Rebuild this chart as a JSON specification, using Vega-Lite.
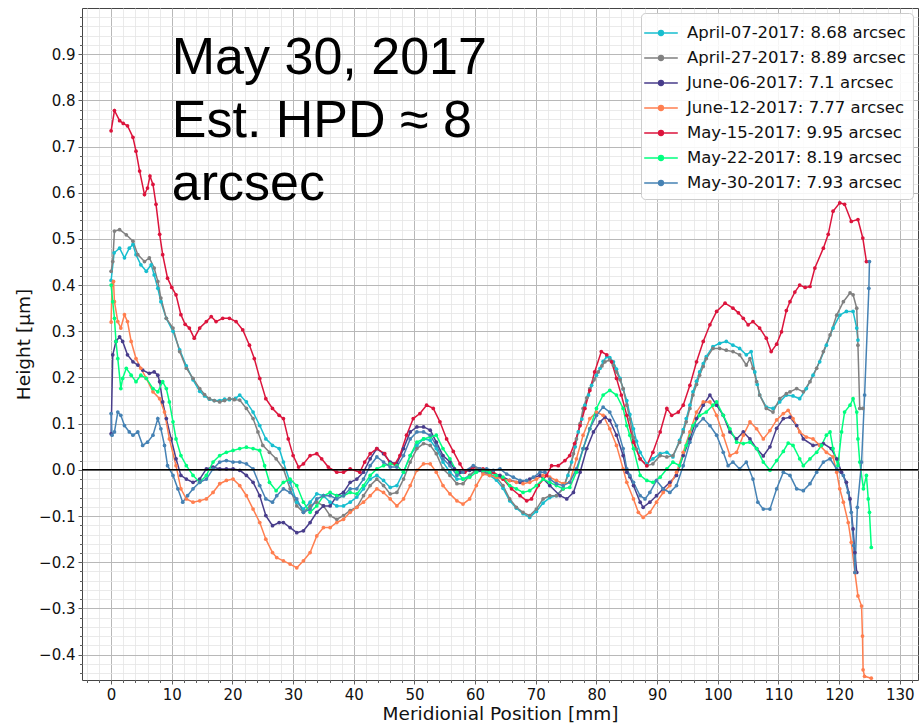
{
"$schema": "https://vega.github.io/schema/vega-lite/v6.json",
"width": 836, "height": 672,
"autosize": {"type": "none"},
"padding": {"left": 82, "top": 8, "right": 3, "bottom": 44},
"background": "white",
"config": {"view": {"stroke": "#444", "strokeWidth": 1}, "font": "DejaVu Sans"},
"datasets": {
"names": [{"s":"a","name":"April-07-2017: 8.68 arcsec"},{"s":"b","name":"April-27-2017: 8.89 arcsec"},{"s":"c","name":"June-06-2017: 7.1 arcsec"},{"s":"d","name":"June-12-2017: 7.77 arcsec"},{"s":"e","name":"May-15-2017: 9.95 arcsec"},{"s":"f","name":"May-22-2017: 8.19 arcsec"},{"s":"g","name":"May-30-2017: 7.93 arcsec"}],
"pts": [
{"s":"a","x":0,"y":0.41},{"s":"a","x":0.5,"y":0.47},{"s":"a","x":1.4,"y":0.48},{"s":"a","x":2.2,"y":0.459},{"s":"a","x":3.0,"y":0.48},{"s":"a","x":3.6,"y":0.488},{"s":"a","x":4.1,"y":0.466},{"s":"a","x":4.9,"y":0.444},{"s":"a","x":5.8,"y":0.43},{"s":"a","x":6.6,"y":0.444},{"s":"a","x":7.1,"y":0.422},{"s":"a","x":7.7,"y":0.393},{"s":"a","x":8.2,"y":0.364},{"s":"a","x":9.1,"y":0.328},{"s":"a","x":10.2,"y":0.3},{"s":"a","x":11.3,"y":0.26},{"s":"a","x":12.4,"y":0.225},{"s":"a","x":13.5,"y":0.195},{"s":"a","x":14.6,"y":0.17},{"s":"a","x":15.4,"y":0.16},{"s":"a","x":16.2,"y":0.153},{"s":"a","x":17.0,"y":0.15},{"s":"a","x":17.9,"y":0.15},{"s":"a","x":18.7,"y":0.153},{"s":"a","x":19.5,"y":0.152},{"s":"a","x":20.5,"y":0.155},{"s":"a","x":21.2,"y":0.162},{"s":"a","x":22.3,"y":0.147},{"s":"a","x":23.4,"y":0.125},{"s":"a","x":24.5,"y":0.096},{"s":"a","x":25.5,"y":0.067},{"s":"a","x":26.6,"y":0.053},{"s":"a","x":27.7,"y":0.046},{"s":"a","x":28.4,"y":0.017},{"s":"a","x":29.5,"y":-0.027},{"s":"a","x":30.6,"y":-0.07},{"s":"a","x":31.7,"y":-0.085},{"s":"a","x":32.8,"y":-0.07},{"s":"a","x":33.9,"y":-0.052},{"s":"a","x":35.0,"y":-0.056},{"s":"a","x":36.1,"y":-0.07},{"s":"a","x":37.2,"y":-0.078},{"s":"a","x":38.3,"y":-0.078},{"s":"a","x":39.4,"y":-0.07},{"s":"a","x":40.5,"y":-0.059},{"s":"a","x":41.6,"y":-0.041},{"s":"a","x":42.7,"y":-0.02},{"s":"a","x":43.8,"y":-0.012},{"s":"a","x":44.9,"y":-0.023},{"s":"a","x":46.0,"y":-0.038},{"s":"a","x":47.1,"y":-0.034},{"s":"a","x":48.2,"y":-0.005},{"s":"a","x":49.3,"y":0.031},{"s":"a","x":50.4,"y":0.053},{"s":"a","x":51.5,"y":0.067},{"s":"a","x":52.6,"y":0.064},{"s":"a","x":53.6,"y":0.046},{"s":"a","x":54.7,"y":0.017},{"s":"a","x":55.85,"y":-0.005},{"s":"a","x":57.0,"y":-0.02},{"s":"a","x":58.0,"y":-0.02},{"s":"a","x":59.1,"y":-0.012},{"s":"a","x":60.2,"y":-0.001},{"s":"a","x":61.3,"y":-0.003},{"s":"a","x":62.4,"y":-0.012},{"s":"a","x":63.5,"y":-0.022},{"s":"a","x":64.6,"y":-0.04},{"s":"a","x":65.7,"y":-0.067},{"s":"a","x":66.8,"y":-0.083},{"s":"a","x":67.9,"y":-0.095},{"s":"a","x":69.0,"y":-0.103},{"s":"a","x":70.1,"y":-0.09},{"s":"a","x":71.2,"y":-0.072},{"s":"a","x":72.3,"y":-0.06},{"s":"a","x":73.4,"y":-0.056},{"s":"a","x":74.5,"y":-0.04},{"s":"a","x":75.3,"y":-0.012},{"s":"a","x":75.9,"y":0.017},{"s":"a","x":76.5,"y":0.05},{"s":"a","x":77.0,"y":0.082},{"s":"a","x":77.6,"y":0.11},{"s":"a","x":78.1,"y":0.14},{"s":"a","x":78.7,"y":0.162},{"s":"a","x":79.2,"y":0.183},{"s":"a","x":80.0,"y":0.205},{"s":"a","x":80.6,"y":0.22},{"s":"a","x":81.1,"y":0.235},{"s":"a","x":81.7,"y":0.245},{"s":"a","x":82.2,"y":0.243},{"s":"a","x":82.8,"y":0.234},{"s":"a","x":83.3,"y":0.218},{"s":"a","x":83.9,"y":0.198},{"s":"a","x":84.4,"y":0.175},{"s":"a","x":85.0,"y":0.15},{"s":"a","x":85.5,"y":0.12},{"s":"a","x":86.1,"y":0.089},{"s":"a","x":86.6,"y":0.062},{"s":"a","x":87.2,"y":0.038},{"s":"a","x":88.3,"y":0.013},{"s":"a","x":89.3,"y":0.024},{"s":"a","x":90.5,"y":0.035},{"s":"a","x":91.6,"y":0.038},{"s":"a","x":92.6,"y":0.028},{"s":"a","x":93.7,"y":0.064},{"s":"a","x":94.3,"y":0.087},{"s":"a","x":94.8,"y":0.111},{"s":"a","x":95.4,"y":0.14},{"s":"a","x":95.9,"y":0.169},{"s":"a","x":96.5,"y":0.192},{"s":"a","x":97.0,"y":0.212},{"s":"a","x":97.6,"y":0.23},{"s":"a","x":98.1,"y":0.245},{"s":"a","x":99.2,"y":0.267},{"s":"a","x":100.3,"y":0.274},{"s":"a","x":101.4,"y":0.278},{"s":"a","x":102.5,"y":0.27},{"s":"a","x":103.6,"y":0.263},{"s":"a","x":104.7,"y":0.249},{"s":"a","x":105.5,"y":0.256},{"s":"a","x":106.1,"y":0.212},{"s":"a","x":106.5,"y":0.185},{"s":"a","x":106.9,"y":0.162},{"s":"a","x":108.0,"y":0.136},{"s":"a","x":109.1,"y":0.133},{"s":"a","x":110.2,"y":0.147},{"s":"a","x":111.3,"y":0.162},{"s":"a","x":112.4,"y":0.16},{"s":"a","x":113.5,"y":0.154},{"s":"a","x":114.6,"y":0.176},{"s":"a","x":115.7,"y":0.205},{"s":"a","x":116.8,"y":0.234},{"s":"a","x":117.9,"y":0.27},{"s":"a","x":119.0,"y":0.307},{"s":"a","x":120.1,"y":0.335},{"s":"a","x":121.2,"y":0.343},{"s":"a","x":122.3,"y":0.343},{"s":"a","x":122.9,"y":0.307},{"s":"a","x":123.1,"y":0.281},
{"s":"b","x":0,"y":0.43},{"s":"b","x":0.27,"y":0.451},{"s":"b","x":0.55,"y":0.517},{"s":"b","x":1.4,"y":0.52},{"s":"b","x":2.5,"y":0.509},{"s":"b","x":3.6,"y":0.495},{"s":"b","x":4.4,"y":0.466},{"s":"b","x":5.5,"y":0.451},{"s":"b","x":6.3,"y":0.459},{"s":"b","x":7.1,"y":0.437},{"s":"b","x":7.7,"y":0.408},{"s":"b","x":8.2,"y":0.372},{"s":"b","x":9.1,"y":0.328},{"s":"b","x":10.2,"y":0.307},{"s":"b","x":11.3,"y":0.256},{"s":"b","x":12.4,"y":0.22},{"s":"b","x":13.5,"y":0.198},{"s":"b","x":14.6,"y":0.176},{"s":"b","x":15.4,"y":0.163},{"s":"b","x":16.2,"y":0.154},{"s":"b","x":17.0,"y":0.15},{"s":"b","x":17.9,"y":0.147},{"s":"b","x":18.7,"y":0.15},{"s":"b","x":19.5,"y":0.154},{"s":"b","x":20.3,"y":0.152},{"s":"b","x":21.2,"y":0.151},{"s":"b","x":22.3,"y":0.133},{"s":"b","x":23.4,"y":0.111},{"s":"b","x":24.2,"y":0.082},{"s":"b","x":25.0,"y":0.053},{"s":"b","x":26.1,"y":0.038},{"s":"b","x":27.2,"y":0.024},{"s":"b","x":28.4,"y":0.002},{"s":"b","x":29.5,"y":-0.041},{"s":"b","x":30.6,"y":-0.078},{"s":"b","x":31.7,"y":-0.092},{"s":"b","x":32.8,"y":-0.078},{"s":"b","x":33.9,"y":-0.07},{"s":"b","x":35.0,"y":-0.078},{"s":"b","x":36.1,"y":-0.099},{"s":"b","x":37.2,"y":-0.107},{"s":"b","x":38.3,"y":-0.099},{"s":"b","x":39.4,"y":-0.088},{"s":"b","x":40.5,"y":-0.081},{"s":"b","x":41.6,"y":-0.056},{"s":"b","x":42.7,"y":-0.034},{"s":"b","x":43.8,"y":-0.02},{"s":"b","x":44.9,"y":-0.034},{"s":"b","x":46.0,"y":-0.052},{"s":"b","x":47.1,"y":-0.049},{"s":"b","x":48.2,"y":-0.02},{"s":"b","x":49.3,"y":0.017},{"s":"b","x":50.4,"y":0.046},{"s":"b","x":51.5,"y":0.057},{"s":"b","x":52.6,"y":0.053},{"s":"b","x":53.6,"y":0.035},{"s":"b","x":54.7,"y":0.002},{"s":"b","x":55.85,"y":-0.012},{"s":"b","x":57.0,"y":-0.03},{"s":"b","x":58.0,"y":-0.03},{"s":"b","x":59.1,"y":-0.012},{"s":"b","x":60.2,"y":0.002},{"s":"b","x":61.3,"y":-0.005},{"s":"b","x":62.4,"y":-0.009},{"s":"b","x":63.5,"y":-0.016},{"s":"b","x":64.6,"y":-0.034},{"s":"b","x":65.7,"y":-0.063},{"s":"b","x":66.8,"y":-0.081},{"s":"b","x":67.9,"y":-0.092},{"s":"b","x":69.0,"y":-0.099},{"s":"b","x":70.1,"y":-0.085},{"s":"b","x":71.2,"y":-0.063},{"s":"b","x":72.3,"y":-0.056},{"s":"b","x":73.4,"y":-0.056},{"s":"b","x":74.5,"y":-0.041},{"s":"b","x":75.6,"y":0.002},{"s":"b","x":76.2,"y":0.035},{"s":"b","x":76.7,"y":0.067},{"s":"b","x":77.3,"y":0.1},{"s":"b","x":77.8,"y":0.133},{"s":"b","x":78.4,"y":0.156},{"s":"b","x":78.9,"y":0.176},{"s":"b","x":79.6,"y":0.195},{"s":"b","x":80.3,"y":0.212},{"s":"b","x":80.9,"y":0.225},{"s":"b","x":81.4,"y":0.234},{"s":"b","x":82.2,"y":0.238},{"s":"b","x":82.8,"y":0.226},{"s":"b","x":83.3,"y":0.212},{"s":"b","x":83.9,"y":0.195},{"s":"b","x":84.4,"y":0.176},{"s":"b","x":85.0,"y":0.14},{"s":"b","x":85.5,"y":0.11},{"s":"b","x":86.1,"y":0.07},{"s":"b","x":86.6,"y":0.045},{"s":"b","x":87.2,"y":0.024},{"s":"b","x":88.3,"y":0.009},{"s":"b","x":89.3,"y":0.013},{"s":"b","x":90.5,"y":0.031},{"s":"b","x":91.6,"y":0.028},{"s":"b","x":92.6,"y":0.031},{"s":"b","x":93.7,"y":0.06},{"s":"b","x":94.3,"y":0.082},{"s":"b","x":94.8,"y":0.104},{"s":"b","x":95.4,"y":0.133},{"s":"b","x":95.9,"y":0.162},{"s":"b","x":96.5,"y":0.185},{"s":"b","x":97.0,"y":0.205},{"s":"b","x":97.6,"y":0.224},{"s":"b","x":98.1,"y":0.241},{"s":"b","x":99.2,"y":0.263},{"s":"b","x":100.3,"y":0.263},{"s":"b","x":101.4,"y":0.259},{"s":"b","x":102.5,"y":0.256},{"s":"b","x":103.6,"y":0.249},{"s":"b","x":104.7,"y":0.227},{"s":"b","x":105.3,"y":0.241},{"s":"b","x":105.8,"y":0.22},{"s":"b","x":106.4,"y":0.191},{"s":"b","x":106.9,"y":0.162},{"s":"b","x":108.0,"y":0.133},{"s":"b","x":109.1,"y":0.125},{"s":"b","x":110.2,"y":0.154},{"s":"b","x":111.3,"y":0.165},{"s":"b","x":111.9,"y":0.169},{"s":"b","x":113.0,"y":0.176},{"s":"b","x":114.1,"y":0.169},{"s":"b","x":115.2,"y":0.191},{"s":"b","x":116.3,"y":0.22},{"s":"b","x":117.4,"y":0.256},{"s":"b","x":118.5,"y":0.292},{"s":"b","x":119.6,"y":0.335},{"s":"b","x":120.7,"y":0.364},{"s":"b","x":121.8,"y":0.383},{"s":"b","x":122.3,"y":0.379},{"s":"b","x":122.9,"y":0.35},{"s":"b","x":123.1,"y":0.27},{"s":"b","x":123.4,"y":0.133},{"s":"b","x":123.9,"y":0.133},
{"s":"c","x":0,"y":0.078},{"s":"c","x":0.27,"y":0.249},{"s":"c","x":0.8,"y":0.278},{"s":"c","x":1.4,"y":0.288},{"s":"c","x":1.9,"y":0.278},{"s":"c","x":2.7,"y":0.249},{"s":"c","x":3.6,"y":0.234},{"s":"c","x":4.4,"y":0.227},{"s":"c","x":5.2,"y":0.216},{"s":"c","x":6.3,"y":0.209},{"s":"c","x":7.1,"y":0.212},{"s":"c","x":7.7,"y":0.205},{"s":"c","x":8.0,"y":0.191},{"s":"c","x":8.5,"y":0.147},{"s":"c","x":9.1,"y":0.111},{"s":"c","x":9.9,"y":0.067},{"s":"c","x":10.7,"y":0.024},{"s":"c","x":11.5,"y":-0.012},{"s":"c","x":12.4,"y":-0.02},{"s":"c","x":13.5,"y":-0.027},{"s":"c","x":14.6,"y":-0.02},{"s":"c","x":15.7,"y":0.002},{"s":"c","x":16.8,"y":0.006},{"s":"c","x":17.9,"y":0.002},{"s":"c","x":19.0,"y":0.002},{"s":"c","x":20.1,"y":0.002},{"s":"c","x":21.2,"y":-0.001},{"s":"c","x":22.3,"y":-0.012},{"s":"c","x":23.4,"y":-0.027},{"s":"c","x":24.5,"y":-0.056},{"s":"c","x":25.5,"y":-0.099},{"s":"c","x":26.6,"y":-0.121},{"s":"c","x":27.7,"y":-0.114},{"s":"c","x":28.4,"y":-0.114},{"s":"c","x":29.5,"y":-0.125},{"s":"c","x":30.6,"y":-0.136},{"s":"c","x":31.7,"y":-0.132},{"s":"c","x":32.8,"y":-0.114},{"s":"c","x":33.9,"y":-0.092},{"s":"c","x":35.0,"y":-0.078},{"s":"c","x":36.1,"y":-0.078},{"s":"c","x":37.2,"y":-0.056},{"s":"c","x":38.3,"y":-0.049},{"s":"c","x":39.4,"y":-0.027},{"s":"c","x":40.5,"y":-0.02},{"s":"c","x":41.6,"y":-0.005},{"s":"c","x":42.7,"y":0.024},{"s":"c","x":43.8,"y":0.046},{"s":"c","x":44.9,"y":0.035},{"s":"c","x":46.0,"y":0.017},{"s":"c","x":47.1,"y":0.013},{"s":"c","x":48.2,"y":0.046},{"s":"c","x":49.3,"y":0.082},{"s":"c","x":50.4,"y":0.093},{"s":"c","x":51.5,"y":0.093},{"s":"c","x":52.6,"y":0.086},{"s":"c","x":53.6,"y":0.06},{"s":"c","x":54.7,"y":0.031},{"s":"c","x":55.85,"y":0.017},{"s":"c","x":56.6,"y":0.002},{"s":"c","x":57.5,"y":-0.005},{"s":"c","x":59.1,"y":-0.001},{"s":"c","x":60.8,"y":-0.001},{"s":"c","x":62.4,"y":-0.005},{"s":"c","x":64.1,"y":-0.012},{"s":"c","x":65.7,"y":-0.023},{"s":"c","x":67.4,"y":-0.027},{"s":"c","x":69.0,"y":-0.02},{"s":"c","x":70.7,"y":-0.012},{"s":"c","x":72.3,"y":-0.034},{"s":"c","x":74.0,"y":-0.056},{"s":"c","x":75.1,"y":-0.063},{"s":"c","x":76.2,"y":-0.049},{"s":"c","x":77.3,"y":-0.005},{"s":"c","x":78.4,"y":0.046},{"s":"c","x":79.5,"y":0.082},{"s":"c","x":80.6,"y":0.104},{"s":"c","x":81.4,"y":0.114},{"s":"c","x":82.2,"y":0.107},{"s":"c","x":83.3,"y":0.075},{"s":"c","x":84.4,"y":0.031},{"s":"c","x":85.0,"y":-0.005},{"s":"c","x":85.5,"y":-0.015},{"s":"c","x":86.1,"y":-0.034},{"s":"c","x":87.2,"y":-0.07},{"s":"c","x":87.7,"y":-0.081},{"s":"c","x":88.8,"y":-0.07},{"s":"c","x":89.9,"y":-0.056},{"s":"c","x":91.0,"y":-0.041},{"s":"c","x":92.1,"y":-0.027},{"s":"c","x":93.2,"y":-0.012},{"s":"c","x":94.3,"y":0.031},{"s":"c","x":95.4,"y":0.067},{"s":"c","x":96.5,"y":0.111},{"s":"c","x":97.6,"y":0.14},{"s":"c","x":98.7,"y":0.162},{"s":"c","x":99.8,"y":0.14},{"s":"c","x":100.9,"y":0.118},{"s":"c","x":102.0,"y":0.082},{"s":"c","x":103.1,"y":0.067},{"s":"c","x":104.2,"y":0.082},{"s":"c","x":105.3,"y":0.067},{"s":"c","x":106.4,"y":0.046},{"s":"c","x":107.5,"y":0.03},{"s":"c","x":108.6,"y":0.05},{"s":"c","x":109.7,"y":0.09},{"s":"c","x":110.8,"y":0.111},{"s":"c","x":111.9,"y":0.114},{"s":"c","x":113.0,"y":0.096},{"s":"c","x":114.1,"y":0.067},{"s":"c","x":115.7,"y":0.053},{"s":"c","x":117.4,"y":0.057},{"s":"c","x":118.7,"y":0.046},{"s":"c","x":119.6,"y":0.024},{"s":"c","x":120.4,"y":-0.005},{"s":"c","x":121.2,"y":-0.027},{"s":"c","x":121.8,"y":-0.063},{"s":"c","x":122.3,"y":-0.128},{"s":"c","x":122.6,"y":-0.179},{"s":"c","x":122.9,"y":-0.222},
{"s":"d","x":0,"y":0.32},{"s":"d","x":0.15,"y":0.4},{"s":"d","x":0.4,"y":0.408},{"s":"d","x":0.55,"y":0.364},{"s":"d","x":1.1,"y":0.321},{"s":"d","x":1.6,"y":0.307},{"s":"d","x":2.2,"y":0.336},{"s":"d","x":2.7,"y":0.321},{"s":"d","x":3.3,"y":0.278},{"s":"d","x":4.1,"y":0.241},{"s":"d","x":4.9,"y":0.22},{"s":"d","x":5.8,"y":0.198},{"s":"d","x":6.9,"y":0.169},{"s":"d","x":8.0,"y":0.154},{"s":"d","x":8.8,"y":0.125},{"s":"d","x":9.6,"y":0.067},{"s":"d","x":10.7,"y":0.009},{"s":"d","x":11.5,"y":-0.041},{"s":"d","x":12.4,"y":-0.063},{"s":"d","x":13.5,"y":-0.07},{"s":"d","x":14.6,"y":-0.067},{"s":"d","x":15.7,"y":-0.063},{"s":"d","x":16.8,"y":-0.049},{"s":"d","x":17.9,"y":-0.03},{"s":"d","x":19.0,"y":-0.023},{"s":"d","x":20.1,"y":-0.02},{"s":"d","x":21.2,"y":-0.034},{"s":"d","x":22.3,"y":-0.056},{"s":"d","x":23.4,"y":-0.085},{"s":"d","x":24.5,"y":-0.114},{"s":"d","x":25.5,"y":-0.15},{"s":"d","x":26.6,"y":-0.179},{"s":"d","x":27.3,"y":-0.19},{"s":"d","x":28.4,"y":-0.197},{"s":"d","x":29.5,"y":-0.204},{"s":"d","x":30.6,"y":-0.212},{"s":"d","x":31.7,"y":-0.197},{"s":"d","x":32.8,"y":-0.179},{"s":"d","x":33.9,"y":-0.143},{"s":"d","x":35.0,"y":-0.125},{"s":"d","x":36.1,"y":-0.125},{"s":"d","x":37.2,"y":-0.114},{"s":"d","x":38.3,"y":-0.107},{"s":"d","x":39.4,"y":-0.092},{"s":"d","x":40.5,"y":-0.081},{"s":"d","x":41.6,"y":-0.07},{"s":"d","x":42.7,"y":-0.056},{"s":"d","x":43.8,"y":-0.041},{"s":"d","x":44.9,"y":-0.049},{"s":"d","x":46.0,"y":-0.063},{"s":"d","x":47.1,"y":-0.078},{"s":"d","x":48.2,"y":-0.063},{"s":"d","x":49.3,"y":-0.034},{"s":"d","x":50.4,"y":-0.001},{"s":"d","x":51.5,"y":0.013},{"s":"d","x":52.6,"y":0.013},{"s":"d","x":53.6,"y":-0.005},{"s":"d","x":54.7,"y":-0.034},{"s":"d","x":55.85,"y":-0.052},{"s":"d","x":57.0,"y":-0.067},{"s":"d","x":58.0,"y":-0.074},{"s":"d","x":59.1,"y":-0.063},{"s":"d","x":60.2,"y":-0.034},{"s":"d","x":61.3,"y":-0.009},{"s":"d","x":62.4,"y":-0.012},{"s":"d","x":63.5,"y":-0.016},{"s":"d","x":64.6,"y":-0.02},{"s":"d","x":65.7,"y":-0.023},{"s":"d","x":66.8,"y":-0.027},{"s":"d","x":67.9,"y":-0.03},{"s":"d","x":69.0,"y":-0.027},{"s":"d","x":70.1,"y":-0.02},{"s":"d","x":71.2,"y":-0.012},{"s":"d","x":72.3,"y":-0.016},{"s":"d","x":73.4,"y":-0.023},{"s":"d","x":74.5,"y":-0.03},{"s":"d","x":75.6,"y":-0.027},{"s":"d","x":76.7,"y":0.024},{"s":"d","x":77.8,"y":0.075},{"s":"d","x":78.9,"y":0.111},{"s":"d","x":80.0,"y":0.125},{"s":"d","x":81.1,"y":0.118},{"s":"d","x":82.2,"y":0.089},{"s":"d","x":83.3,"y":0.053},{"s":"d","x":84.4,"y":0.002},{"s":"d","x":85.0,"y":-0.027},{"s":"d","x":86.1,"y":-0.063},{"s":"d","x":86.9,"y":-0.092},{"s":"d","x":87.7,"y":-0.103},{"s":"d","x":88.8,"y":-0.092},{"s":"d","x":89.9,"y":-0.07},{"s":"d","x":91.0,"y":-0.049},{"s":"d","x":92.1,"y":-0.034},{"s":"d","x":93.2,"y":-0.005},{"s":"d","x":94.3,"y":0.038},{"s":"d","x":95.4,"y":0.082},{"s":"d","x":96.5,"y":0.125},{"s":"d","x":97.6,"y":0.147},{"s":"d","x":98.7,"y":0.147},{"s":"d","x":99.8,"y":0.118},{"s":"d","x":100.9,"y":0.075},{"s":"d","x":102.0,"y":0.031},{"s":"d","x":103.1,"y":0.038},{"s":"d","x":104.2,"y":0.075},{"s":"d","x":105.3,"y":0.104},{"s":"d","x":106.4,"y":0.089},{"s":"d","x":107.5,"y":0.067},{"s":"d","x":108.6,"y":0.085},{"s":"d","x":109.7,"y":0.108},{"s":"d","x":110.8,"y":0.122},{"s":"d","x":111.6,"y":0.129},{"s":"d","x":112.4,"y":0.111},{"s":"d","x":113.5,"y":0.082},{"s":"d","x":114.6,"y":0.071},{"s":"d","x":115.7,"y":0.067},{"s":"d","x":116.8,"y":0.053},{"s":"d","x":117.9,"y":0.038},{"s":"d","x":119.0,"y":0.028},{"s":"d","x":119.6,"y":-0.005},{"s":"d","x":120.1,"y":-0.041},{"s":"d","x":120.7,"y":-0.07},{"s":"d","x":121.5,"y":-0.114},{"s":"d","x":122.0,"y":-0.157},{"s":"d","x":122.6,"y":-0.222},{"s":"d","x":123.1,"y":-0.273},{"s":"d","x":123.7,"y":-0.295},{"s":"d","x":123.85,"y":-0.36},{"s":"d","x":123.95,"y":-0.433},{"s":"d","x":124.2,"y":-0.447},{"s":"d","x":125.3,"y":-0.451},
{"s":"e","x":0,"y":0.734},{"s":"e","x":0.55,"y":0.778},{"s":"e","x":1.4,"y":0.756},{"s":"e","x":2.0,"y":0.75},{"s":"e","x":2.7,"y":0.745},{"s":"e","x":3.6,"y":0.72},{"s":"e","x":4.1,"y":0.69},{"s":"e","x":4.7,"y":0.647},{"s":"e","x":5.5,"y":0.596},{"s":"e","x":6.0,"y":0.61},{"s":"e","x":6.4,"y":0.636},{"s":"e","x":6.9,"y":0.618},{"s":"e","x":7.4,"y":0.575},{"s":"e","x":8.0,"y":0.51},{"s":"e","x":8.5,"y":0.466},{"s":"e","x":9.3,"y":0.415},{"s":"e","x":10.0,"y":0.395},{"s":"e","x":10.7,"y":0.379},{"s":"e","x":11.5,"y":0.336},{"s":"e","x":12.2,"y":0.315},{"s":"e","x":12.9,"y":0.307},{"s":"e","x":13.7,"y":0.285},{"s":"e","x":14.6,"y":0.307},{"s":"e","x":15.7,"y":0.321},{"s":"e","x":16.5,"y":0.332},{"s":"e","x":17.3,"y":0.321},{"s":"e","x":18.4,"y":0.328},{"s":"e","x":19.5,"y":0.328},{"s":"e","x":20.6,"y":0.321},{"s":"e","x":21.7,"y":0.303},{"s":"e","x":22.8,"y":0.27},{"s":"e","x":23.6,"y":0.241},{"s":"e","x":24.5,"y":0.198},{"s":"e","x":25.5,"y":0.154},{"s":"e","x":26.6,"y":0.133},{"s":"e","x":27.7,"y":0.118},{"s":"e","x":28.4,"y":0.111},{"s":"e","x":29.2,"y":0.067},{"s":"e","x":30.0,"y":0.031},{"s":"e","x":30.9,"y":0.006},{"s":"e","x":31.7,"y":0.013},{"s":"e","x":32.8,"y":0.031},{"s":"e","x":33.9,"y":0.035},{"s":"e","x":34.7,"y":0.024},{"s":"e","x":35.8,"y":0.006},{"s":"e","x":37.2,"y":-0.005},{"s":"e","x":38.3,"y":-0.005},{"s":"e","x":39.4,"y":0.002},{"s":"e","x":41.0,"y":-0.005},{"s":"e","x":41.8,"y":0.017},{"s":"e","x":42.7,"y":0.035},{"s":"e","x":43.8,"y":0.046},{"s":"e","x":45.1,"y":0.035},{"s":"e","x":46.0,"y":0.013},{"s":"e","x":46.8,"y":0.013},{"s":"e","x":47.6,"y":0.031},{"s":"e","x":48.7,"y":0.075},{"s":"e","x":49.8,"y":0.111},{"s":"e","x":50.9,"y":0.122},{"s":"e","x":52.0,"y":0.14},{"s":"e","x":53.1,"y":0.133},{"s":"e","x":54.2,"y":0.104},{"s":"e","x":55.3,"y":0.067},{"s":"e","x":56.4,"y":0.04},{"s":"e","x":57.5,"y":0.013},{"s":"e","x":58.3,"y":-0.005},{"s":"e","x":59.7,"y":0.006},{"s":"e","x":61.3,"y":0.002},{"s":"e","x":63.0,"y":-0.005},{"s":"e","x":64.6,"y":-0.02},{"s":"e","x":66.0,"y":-0.041},{"s":"e","x":67.4,"y":-0.056},{"s":"e","x":68.5,"y":-0.067},{"s":"e","x":69.3,"y":-0.063},{"s":"e","x":70.4,"y":-0.034},{"s":"e","x":71.8,"y":-0.012},{"s":"e","x":72.6,"y":0.009},{"s":"e","x":73.7,"y":0.009},{"s":"e","x":74.8,"y":0.02},{"s":"e","x":75.6,"y":0.031},{"s":"e","x":76.4,"y":0.057},{"s":"e","x":77.3,"y":0.096},{"s":"e","x":78.1,"y":0.133},{"s":"e","x":78.9,"y":0.172},{"s":"e","x":79.7,"y":0.212},{"s":"e","x":80.8,"y":0.256},{"s":"e","x":81.7,"y":0.249},{"s":"e","x":82.5,"y":0.234},{"s":"e","x":83.3,"y":0.198},{"s":"e","x":84.1,"y":0.162},{"s":"e","x":85.0,"y":0.118},{"s":"e","x":86.1,"y":0.06},{"s":"e","x":87.2,"y":0.024},{"s":"e","x":88.3,"y":0.009},{"s":"e","x":89.3,"y":0.038},{"s":"e","x":90.5,"y":0.082},{"s":"e","x":91.6,"y":0.133},{"s":"e","x":92.4,"y":0.118},{"s":"e","x":93.5,"y":0.125},{"s":"e","x":94.3,"y":0.14},{"s":"e","x":95.4,"y":0.183},{"s":"e","x":96.5,"y":0.234},{"s":"e","x":97.6,"y":0.278},{"s":"e","x":98.7,"y":0.314},{"s":"e","x":99.8,"y":0.343},{"s":"e","x":101.2,"y":0.361},{"s":"e","x":102.5,"y":0.35},{"s":"e","x":103.4,"y":0.34},{"s":"e","x":104.2,"y":0.328},{"s":"e","x":105.0,"y":0.314},{"s":"e","x":105.8,"y":0.321},{"s":"e","x":106.9,"y":0.307},{"s":"e","x":108.0,"y":0.285},{"s":"e","x":108.8,"y":0.256},{"s":"e","x":109.7,"y":0.272},{"s":"e","x":110.5,"y":0.299},{"s":"e","x":111.3,"y":0.345},{"s":"e","x":111.9,"y":0.364},{"s":"e","x":112.7,"y":0.385},{"s":"e","x":113.5,"y":0.4},{"s":"e","x":114.4,"y":0.395},{"s":"e","x":115.2,"y":0.397},{"s":"e","x":116.0,"y":0.437},{"s":"e","x":117.4,"y":0.48},{"s":"e","x":118.2,"y":0.51},{"s":"e","x":119.0,"y":0.56},{"s":"e","x":120.1,"y":0.578},{"s":"e","x":120.9,"y":0.575},{"s":"e","x":122.0,"y":0.538},{"s":"e","x":123.1,"y":0.542},{"s":"e","x":123.9,"y":0.502},{"s":"e","x":124.5,"y":0.451},
{"s":"f","x":0,"y":0.4},{"s":"f","x":0.27,"y":0.364},{"s":"f","x":0.55,"y":0.328},{"s":"f","x":0.8,"y":0.278},{"s":"f","x":1.1,"y":0.241},{"s":"f","x":1.6,"y":0.176},{"s":"f","x":1.9,"y":0.198},{"s":"f","x":2.5,"y":0.22},{"s":"f","x":3.3,"y":0.205},{"s":"f","x":4.1,"y":0.191},{"s":"f","x":4.9,"y":0.205},{"s":"f","x":5.8,"y":0.198},{"s":"f","x":6.9,"y":0.176},{"s":"f","x":7.7,"y":0.169},{"s":"f","x":8.5,"y":0.191},{"s":"f","x":9.1,"y":0.176},{"s":"f","x":9.6,"y":0.147},{"s":"f","x":10.2,"y":0.104},{"s":"f","x":10.7,"y":0.067},{"s":"f","x":11.5,"y":0.031},{"s":"f","x":12.4,"y":0.009},{"s":"f","x":13.5,"y":-0.012},{"s":"f","x":14.6,"y":-0.027},{"s":"f","x":15.7,"y":-0.012},{"s":"f","x":16.8,"y":0.017},{"s":"f","x":17.9,"y":0.031},{"s":"f","x":19.0,"y":0.038},{"s":"f","x":20.1,"y":0.042},{"s":"f","x":21.2,"y":0.046},{"s":"f","x":22.3,"y":0.049},{"s":"f","x":23.4,"y":0.046},{"s":"f","x":24.5,"y":0.042},{"s":"f","x":25.3,"y":0.009},{"s":"f","x":26.1,"y":-0.027},{"s":"f","x":27.2,"y":-0.045},{"s":"f","x":28.4,"y":-0.027},{"s":"f","x":29.5,"y":-0.02},{"s":"f","x":30.6,"y":-0.034},{"s":"f","x":31.7,"y":-0.07},{"s":"f","x":32.8,"y":-0.092},{"s":"f","x":33.9,"y":-0.078},{"s":"f","x":35.0,"y":-0.056},{"s":"f","x":36.1,"y":-0.049},{"s":"f","x":37.2,"y":-0.056},{"s":"f","x":38.3,"y":-0.056},{"s":"f","x":39.4,"y":-0.049},{"s":"f","x":40.5,"y":-0.052},{"s":"f","x":41.6,"y":-0.034},{"s":"f","x":42.7,"y":-0.012},{"s":"f","x":43.8,"y":0.002},{"s":"f","x":44.9,"y":0.009},{"s":"f","x":46.0,"y":0.013},{"s":"f","x":47.1,"y":0.009},{"s":"f","x":48.2,"y":-0.005},{"s":"f","x":49.3,"y":0.031},{"s":"f","x":50.4,"y":0.06},{"s":"f","x":51.5,"y":0.067},{"s":"f","x":52.6,"y":0.071},{"s":"f","x":53.6,"y":0.075},{"s":"f","x":54.7,"y":0.046},{"s":"f","x":55.85,"y":0.024},{"s":"f","x":57.0,"y":-0.005},{"s":"f","x":58.0,"y":-0.02},{"s":"f","x":59.1,"y":-0.016},{"s":"f","x":60.2,"y":-0.005},{"s":"f","x":61.3,"y":-0.001},{"s":"f","x":62.4,"y":-0.005},{"s":"f","x":63.5,"y":-0.012},{"s":"f","x":64.6,"y":-0.016},{"s":"f","x":65.7,"y":-0.034},{"s":"f","x":66.8,"y":-0.041},{"s":"f","x":67.9,"y":-0.049},{"s":"f","x":69.0,"y":-0.045},{"s":"f","x":70.1,"y":-0.034},{"s":"f","x":71.2,"y":-0.02},{"s":"f","x":72.3,"y":-0.027},{"s":"f","x":73.4,"y":-0.034},{"s":"f","x":74.5,"y":-0.041},{"s":"f","x":75.6,"y":-0.038},{"s":"f","x":76.7,"y":-0.005},{"s":"f","x":77.8,"y":0.046},{"s":"f","x":78.9,"y":0.089},{"s":"f","x":80.0,"y":0.133},{"s":"f","x":81.1,"y":0.162},{"s":"f","x":82.2,"y":0.172},{"s":"f","x":83.3,"y":0.162},{"s":"f","x":84.4,"y":0.133},{"s":"f","x":85.0,"y":0.096},{"s":"f","x":85.5,"y":0.075},{"s":"f","x":86.1,"y":0.046},{"s":"f","x":87.2,"y":-0.012},{"s":"f","x":88.3,"y":-0.023},{"s":"f","x":89.3,"y":-0.027},{"s":"f","x":90.5,"y":-0.016},{"s":"f","x":91.6,"y":0.002},{"s":"f","x":92.6,"y":0.017},{"s":"f","x":93.7,"y":0.009},{"s":"f","x":94.8,"y":0.053},{"s":"f","x":95.9,"y":0.096},{"s":"f","x":97.0,"y":0.118},{"s":"f","x":98.1,"y":0.125},{"s":"f","x":99.2,"y":0.14},{"s":"f","x":99.8,"y":0.147},{"s":"f","x":100.9,"y":0.118},{"s":"f","x":102.0,"y":0.089},{"s":"f","x":103.1,"y":0.06},{"s":"f","x":104.2,"y":0.057},{"s":"f","x":105.3,"y":0.06},{"s":"f","x":106.4,"y":0.046},{"s":"f","x":107.5,"y":0.017},{"s":"f","x":108.6,"y":-0.001},{"s":"f","x":109.7,"y":0.02},{"s":"f","x":110.8,"y":0.04},{"s":"f","x":111.6,"y":0.058},{"s":"f","x":112.4,"y":0.053},{"s":"f","x":113.5,"y":0.024},{"s":"f","x":114.1,"y":0.009},{"s":"f","x":115.2,"y":0.024},{"s":"f","x":116.3,"y":0.038},{"s":"f","x":117.1,"y":0.053},{"s":"f","x":117.9,"y":0.075},{"s":"f","x":118.5,"y":0.082},{"s":"f","x":119.0,"y":0.046},{"s":"f","x":119.8,"y":0.009},{"s":"f","x":120.4,"y":0.082},{"s":"f","x":120.9,"y":0.125},{"s":"f","x":121.8,"y":0.14},{"s":"f","x":122.3,"y":0.154},{"s":"f","x":122.9,"y":0.125},{"s":"f","x":123.1,"y":0.067},{"s":"f","x":123.4,"y":0.017},{"s":"f","x":124.0,"y":-0.041},{"s":"f","x":124.5,"y":-0.012},{"s":"f","x":124.8,"y":-0.063},{"s":"f","x":125.0,"y":-0.092},{"s":"f","x":125.3,"y":-0.168},
{"s":"g","x":0,"y":0.122},{"s":"g","x":0.15,"y":0.075},{"s":"g","x":0.55,"y":0.082},{"s":"g","x":1.1,"y":0.125},{"s":"g","x":1.6,"y":0.118},{"s":"g","x":2.2,"y":0.096},{"s":"g","x":3.0,"y":0.082},{"s":"g","x":3.6,"y":0.075},{"s":"g","x":4.4,"y":0.082},{"s":"g","x":5.2,"y":0.053},{"s":"g","x":6.0,"y":0.06},{"s":"g","x":6.9,"y":0.075},{"s":"g","x":7.7,"y":0.111},{"s":"g","x":8.2,"y":0.089},{"s":"g","x":8.8,"y":0.053},{"s":"g","x":9.3,"y":0.009},{"s":"g","x":10.2,"y":-0.012},{"s":"g","x":11.0,"y":-0.041},{"s":"g","x":11.8,"y":-0.07},{"s":"g","x":12.6,"y":-0.056},{"s":"g","x":13.5,"y":-0.041},{"s":"g","x":14.6,"y":-0.027},{"s":"g","x":15.7,"y":-0.02},{"s":"g","x":16.8,"y":0.002},{"s":"g","x":17.9,"y":0.017},{"s":"g","x":19.0,"y":0.02},{"s":"g","x":20.1,"y":0.017},{"s":"g","x":21.2,"y":0.017},{"s":"g","x":22.3,"y":0.013},{"s":"g","x":23.4,"y":0.002},{"s":"g","x":24.5,"y":-0.034},{"s":"g","x":25.5,"y":-0.063},{"s":"g","x":26.6,"y":-0.07},{"s":"g","x":27.3,"y":-0.056},{"s":"g","x":28.4,"y":-0.041},{"s":"g","x":29.5,"y":-0.049},{"s":"g","x":30.6,"y":-0.063},{"s":"g","x":31.7,"y":-0.092},{"s":"g","x":32.8,"y":-0.085},{"s":"g","x":33.9,"y":-0.063},{"s":"g","x":35.0,"y":-0.056},{"s":"g","x":36.1,"y":-0.056},{"s":"g","x":37.2,"y":-0.063},{"s":"g","x":38.3,"y":-0.056},{"s":"g","x":39.4,"y":-0.041},{"s":"g","x":40.5,"y":-0.041},{"s":"g","x":41.6,"y":-0.02},{"s":"g","x":42.7,"y":0.009},{"s":"g","x":43.8,"y":0.028},{"s":"g","x":44.9,"y":0.017},{"s":"g","x":46.0,"y":0.006},{"s":"g","x":47.1,"y":0.006},{"s":"g","x":48.2,"y":0.031},{"s":"g","x":49.3,"y":0.067},{"s":"g","x":50.4,"y":0.082},{"s":"g","x":51.5,"y":0.082},{"s":"g","x":52.6,"y":0.075},{"s":"g","x":53.6,"y":0.053},{"s":"g","x":54.7,"y":0.024},{"s":"g","x":55.85,"y":0.009},{"s":"g","x":57.0,"y":-0.012},{"s":"g","x":58.0,"y":-0.005},{"s":"g","x":59.7,"y":0.009},{"s":"g","x":60.8,"y":0.002},{"s":"g","x":61.9,"y":0.002},{"s":"g","x":63.0,"y":-0.001},{"s":"g","x":64.1,"y":0.002},{"s":"g","x":65.2,"y":-0.009},{"s":"g","x":66.3,"y":-0.016},{"s":"g","x":67.4,"y":-0.023},{"s":"g","x":68.5,"y":-0.023},{"s":"g","x":69.6,"y":-0.016},{"s":"g","x":70.7,"y":-0.005},{"s":"g","x":71.5,"y":-0.005},{"s":"g","x":72.3,"y":-0.02},{"s":"g","x":73.4,"y":-0.03},{"s":"g","x":74.5,"y":-0.034},{"s":"g","x":75.6,"y":-0.027},{"s":"g","x":76.7,"y":0.002},{"s":"g","x":77.8,"y":0.046},{"s":"g","x":78.9,"y":0.089},{"s":"g","x":80.0,"y":0.118},{"s":"g","x":81.1,"y":0.136},{"s":"g","x":82.2,"y":0.125},{"s":"g","x":83.3,"y":0.096},{"s":"g","x":84.4,"y":0.046},{"s":"g","x":85.0,"y":0.002},{"s":"g","x":85.5,"y":-0.012},{"s":"g","x":86.1,"y":-0.027},{"s":"g","x":87.2,"y":-0.056},{"s":"g","x":88.0,"y":-0.063},{"s":"g","x":88.8,"y":-0.049},{"s":"g","x":89.9,"y":-0.023},{"s":"g","x":91.0,"y":-0.041},{"s":"g","x":92.1,"y":-0.049},{"s":"g","x":93.2,"y":-0.034},{"s":"g","x":94.3,"y":0.009},{"s":"g","x":95.4,"y":0.06},{"s":"g","x":96.5,"y":0.096},{"s":"g","x":97.6,"y":0.111},{"s":"g","x":98.7,"y":0.096},{"s":"g","x":99.8,"y":0.075},{"s":"g","x":100.9,"y":0.038},{"s":"g","x":101.7,"y":0.009},{"s":"g","x":102.5,"y":0.017},{"s":"g","x":103.6,"y":0.002},{"s":"g","x":104.7,"y":0.017},{"s":"g","x":105.8,"y":-0.02},{"s":"g","x":106.6,"y":-0.07},{"s":"g","x":107.5,"y":-0.085},{"s":"g","x":108.6,"y":-0.085},{"s":"g","x":109.7,"y":-0.041},{"s":"g","x":110.8,"y":-0.005},{"s":"g","x":111.9,"y":-0.012},{"s":"g","x":113.0,"y":-0.041},{"s":"g","x":114.1,"y":-0.045},{"s":"g","x":115.2,"y":-0.03},{"s":"g","x":116.3,"y":-0.005},{"s":"g","x":117.4,"y":0.017},{"s":"g","x":118.5,"y":0.024},{"s":"g","x":119.6,"y":0.002},{"s":"g","x":120.7,"y":-0.012},{"s":"g","x":121.5,"y":-0.049},{"s":"g","x":122.0,"y":-0.092},{"s":"g","x":122.4,"y":-0.164},{"s":"g","x":122.6,"y":-0.222},{"s":"g","x":123.0,"y":-0.081},{"s":"g","x":123.7,"y":0.017},{"s":"g","x":124.2,"y":0.162},{"s":"g","x":124.9,"y":0.393},{"s":"g","x":125.0,"y":0.451}
]
},
"layer": [
{
"data": {"name": "pts"},
"transform": [{"lookup": "s", "from": {"data": {"name": "names"}, "key": "s", "fields": ["name"]}}],
"mark": {"type": "line", "strokeWidth": 1.5, "clip": true, "point": {"filled": true, "size": 14}},
"encoding": {
"x": {"field": "x", "type": "quantitative",
 "scale": {"domain": [-4.8, 133], "nice": false, "zero": false},
 "axis": {"title": "Meridionial Position [mm]", "tickCount": 500,
  "values": [-4,-2,0,2,4,6,8,10,12,14,16,18,20,22,24,26,28,30,32,34,36,38,40,42,44,46,48,50,52,54,56,58,60,62,64,66,68,70,72,74,76,78,80,82,84,86,88,90,92,94,96,98,100,102,104,106,108,110,112,114,116,118,120,122,124,126,128,130,132],
  "labelExpr": "datum.value % 10 === 0 ? format(datum.value, 'd') : ''",
  "gridColor": {"condition": {"test": "datum.value % 10 === 0", "value": "#b8b8b8"}, "value": "#e4e4e4"},
  "gridWidth": {"condition": {"test": "datum.value % 10 === 0", "value": 1}, "value": 0.8},
  "tickSize": {"condition": {"test": "datum.value % 10 === 0", "value": 4}, "value": 2.5},
  "tickColor": "#333", "tickWidth": 0.8, "domain": false,
  "labelFont": "DejaVu Sans", "labelFontSize": 15, "labelColor": "#111", "labelPadding": 3, "labelOverlap": false,
  "titleFont": "DejaVu Sans", "titleFontSize": 18.5, "titleFontWeight": "normal", "titleColor": "#111", "titlePadding": 2}
},
"y": {"field": "y", "type": "quantitative",
 "scale": {"domain": [-0.455, 1.0], "nice": false, "zero": false},
 "axis": {"title": "Height [μm]", "tickCount": 500,
  "values": [-0.44,-0.42,-0.4,-0.38,-0.36,-0.34,-0.32,-0.3,-0.28,-0.26,-0.24,-0.22,-0.2,-0.18,-0.16,-0.14,-0.12,-0.1,-0.08,-0.06,-0.04,-0.02,0,0.02,0.04,0.06,0.08,0.1,0.12,0.14,0.16,0.18,0.2,0.22,0.24,0.26,0.28,0.3,0.32,0.34,0.36,0.38,0.4,0.42,0.44,0.46,0.48,0.5,0.52,0.54,0.56,0.58,0.6,0.62,0.64,0.66,0.68,0.7,0.72,0.74,0.76,0.78,0.8,0.82,0.84,0.86,0.88,0.9,0.92,0.94,0.96,0.98],
  "labelExpr": "abs(datum.value * 10 - round(datum.value * 10)) < 0.001 ? format(datum.value, '.1f') : ''",
  "gridColor": {"condition": {"test": "abs(datum.value * 10 - round(datum.value * 10)) < 0.001", "value": "#b8b8b8"}, "value": "#e4e4e4"},
  "gridWidth": {"condition": {"test": "abs(datum.value * 10 - round(datum.value * 10)) < 0.001", "value": 1}, "value": 0.8},
  "tickSize": {"condition": {"test": "abs(datum.value * 10 - round(datum.value * 10)) < 0.001", "value": 4}, "value": 2.5},
  "tickColor": "#333", "tickWidth": 0.8, "domain": false,
  "labelFont": "DejaVu Sans", "labelFontSize": 15, "labelColor": "#111", "labelPadding": 3, "labelOverlap": false,
  "titleFont": "DejaVu Sans", "titleFontSize": 18.5, "titleFontWeight": "normal", "titleColor": "#111", "titlePadding": 5}
},
"color": {"field": "name", "type": "nominal",
 "scale": {"domain": ["April-07-2017: 8.68 arcsec","April-27-2017: 8.89 arcsec","June-06-2017: 7.1 arcsec","June-12-2017: 7.77 arcsec","May-15-2017: 9.95 arcsec","May-22-2017: 8.19 arcsec","May-30-2017: 7.93 arcsec"],
  "range": ["#17becf","#808080","#483d8b","#ff7f50","#dc143c","#00ff7f","#4682b4"]},
 "legend": {"title": null, "orient": "top-right", "offset": 5,
  "labelFont": "DejaVu Sans", "labelFontSize": 16.5, "labelColor": "#111", "labelLimit": 320, "labelOffset": 13,
  "symbolType": "M-1.4,0H1.4M0.2,0A0.2,0.2,0,1,1,-0.2,0A0.2,0.2,0,1,1,0.2,0Z",
  "symbolSize": 576, "symbolStrokeWidth": 1.5, "rowPadding": 3, "padding": 7,
  "fillColor": "rgba(255,255,255,0.85)", "strokeColor": "#cccccc", "cornerRadius": 4,
  "encode": {"symbols": {"update": {"fill": {"scale": "color", "field": "value"}}}}}
}
}
},
{
"data": {"values": [{}]},
"mark": {"type": "rule", "color": "black", "strokeWidth": 1.5},
"encoding": {"y": {"datum": 0, "type": "quantitative"}}
},
{
"data": {"values": [{}]},
"mark": {"type": "text", "text": ["May 30, 2017", "Est. HPD ≈ 8", "arcsec"], "font": "Liberation Sans", "fontSize": 52, "lineHeight": 63, "align": "left", "baseline": "alphabetic", "color": "black"},
"encoding": {"x": {"datum": 10, "type": "quantitative"}, "y": {"datum": 0.857, "type": "quantitative"}}
}
]
}
